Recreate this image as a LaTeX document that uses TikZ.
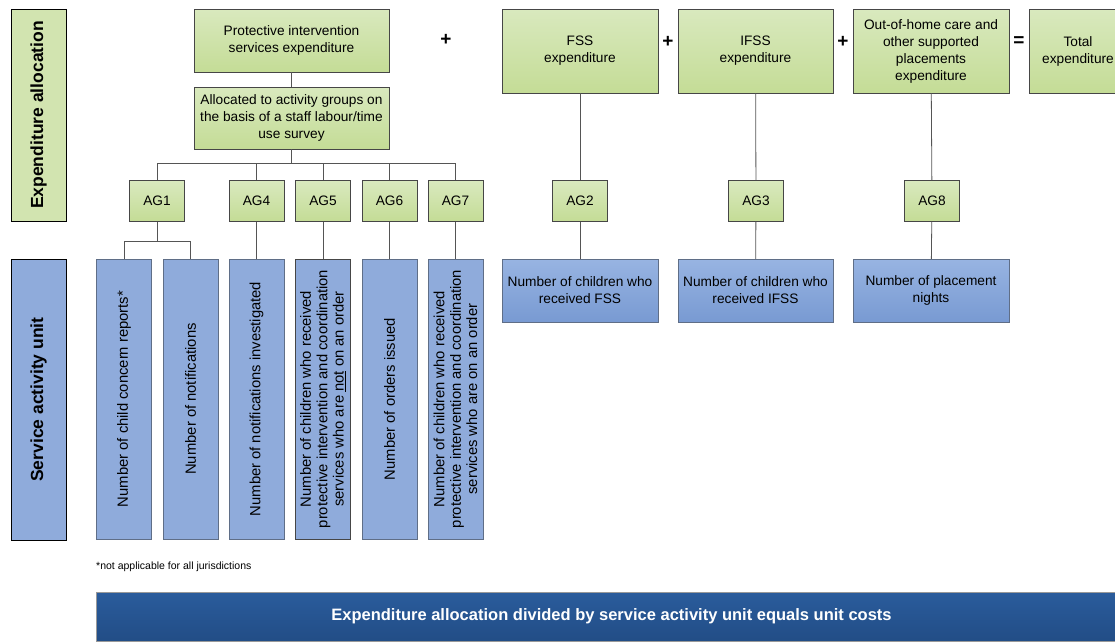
\documentclass[tikz,border=0pt]{standalone}
\usepackage{fontspec}
\setmainfont{Liberation Sans}
\usetikzlibrary{positioning}

\definecolor{greentop}{RGB}{217,233,190}
\definecolor{greenbot}{RGB}{196,220,150}
\definecolor{greenside}{RGB}{210,228,176}
\definecolor{bluefill}{RGB}{143,171,219}
\definecolor{bluetop}{RGB}{152,180,226}
\definecolor{bluebot}{RGB}{120,154,210}
\definecolor{boxline}{RGB}{70,70,70}
\definecolor{blueline}{RGB}{95,110,135}
\definecolor{linkline}{RGB}{85,85,85}
\definecolor{bannertop}{RGB}{42,92,156}
\definecolor{bannerbot}{RGB}{34,77,134}

\begin{document}
\begin{tikzpicture}[x = 1pt, y = -1pt,
	greenbox/.style = {draw = boxline, top color = greentop, bottom color = greenbot,
		align = center, inner sep = 0pt, font = \fontsize{13.7}{17}\selectfont},
	agbox/.style = {greenbox, minimum width = 55pt, minimum height = 41pt},
	tallbox/.style = {draw = blueline, fill = bluefill, rotate = 90, align = center,
		minimum width = 280pt, minimum height = 55pt, inner sep = 0pt,
		font = \fontsize{14.8}{16.3}\selectfont},
	widebox/.style = {draw = blueline, top color = bluetop, bottom color = bluebot,
		minimum width = 156pt, minimum height = 63pt, align = center, inner sep = 0pt,
		font = \fontsize{13.7}{17}\selectfont},
	sidelabel/.style = {draw = black, rotate = 90, minimum height = 55pt, inner sep = 0pt,
		font = \bfseries\fontsize{17.5}{20}\selectfont},
	link/.style = {draw = linkline, line width = 0.8pt},
	sign/.style = {inner sep = 0pt, font = \bfseries\fontsize{19}{19}\selectfont}]

	\useasboundingbox (0, 0) rectangle (1115, 641);

	% Side labels

	\node [sidelabel, fill = greenside, minimum width = 212pt] (exlabel) at (38.5, 115) {Expenditure allocation};
	\node [sidelabel, fill = bluefill, minimum width = 281pt] (salabel) at (38.5, 399.5) {Service activity unit};

	% Expenditure

	\node [greenbox, minimum width = 195pt, minimum height = 63pt] (pis) at (291.5, 40.5) {Protective intervention\\services expenditure};
	\node [greenbox, minimum width = 195pt, minimum height = 62pt] (alloc) at (291.5, 118) {Allocated to activity groups on\\the basis of a staff labour/time\\use survey};
	\node [greenbox, minimum width = 156pt, minimum height = 84pt] (fss) at (580, 51) {FSS\\expenditure};
	\node [greenbox, minimum width = 155pt, minimum height = 84pt] (ifss) at (755.5, 51) {IFSS\\expenditure};
	\node [greenbox, minimum width = 156pt, minimum height = 84pt] (ooh) at (931, 51) {Out-of-home care and\\other supported\\placements\\expenditure};
	\node [greenbox, minimum width = 98pt, minimum height = 84pt] (total) at (1078, 51) {Total\\expenditure};

	% Signs

	\node [sign] (plusa) at (446, 40) {+};
	\node [sign] (plusb) at (668, 42) {+};
	\node [sign] (plusc) at (843, 42) {+};
	\node [sign] (equal) at (1019, 42) {=};

	% Activity groups

	\node [agbox] (ag1) at (157, 201) {AG1};
	\node [agbox] (ag4) at (256.5, 201) {AG4};
	\node [agbox] (ag5) at (323, 201) {AG5};
	\node [agbox] (ag6) at (389.5, 201) {AG6};
	\node [agbox] (ag7) at (455.5, 201) {AG7};
	\node [agbox] (ag2) at (580, 201) {AG2};
	\node [agbox] (ag3) at (756, 201) {AG3};
	\node [agbox] (ag8) at (932, 201) {AG8};

	% Service activity units

	\node [tallbox] (su1) at (124, 399) {Number of child concern reports*};
	\node [tallbox] (su2) at (190.5, 399) {Number of notifications};
	\node [tallbox] (su3) at (256.5, 399) {Number of notifications investigated};
	\node [tallbox, draw = boxline] (su4) at (323, 399) {Number of children who received\\protective intervention and coordination\\services who are \underline{not} on an order};
	\node [tallbox] (su5) at (389.5, 399) {Number of orders issued};
	\node [tallbox] (su6) at (455.5, 399) {Number of children who received\\protective intervention and coordination\\services who are on an order};
	\node [widebox] (su7) at (580, 290.5) {Number of children who\\received FSS};
	\node [widebox, minimum width = 155pt] (su8) at (755.5, 290.5) {Number of children who\\received IFSS};
	\node [widebox] (su9) at (931, 290.5) {Number of placement\\nights};

	% Connectors

	\draw [link] (pis) -- (alloc);
	\draw [link] (alloc.south) -- ++(0, 14) coordinate (fork);
	\foreach \ag in {ag1, ag4, ag5, ag6, ag7}
		\draw [link] (fork) -| (\ag.north);
	\draw [link] (ag1.south) -- ++(0, 20) coordinate (forkb);
	\draw [link] (forkb) -| (su1.east);
	\draw [link] (forkb) -| (su2.east);
	\draw [link] (ag4.south) -- (su3.east);
	\draw [link] (ag5.south) -- (su4.east);
	\draw [link] (ag6.south) -- (su5.east);
	\draw [link] (ag7.south) -- (su6.east);
	\draw [link] (fss) -- (ag2);
	\draw [link] (ifss) -- (ag3);
	\draw [link] (ooh) -- (ag8);
	\draw [link] (ag2) -- (su7);
	\draw [link] (ag3) -- (su8);
	\draw [link] (ag8) -- (su9);

	% Footnote and banner

	\node [anchor = west, inner sep = 0pt, font = \fontsize{10.5}{12}\selectfont] (note) at (96, 567) {*not applicable for all jurisdictions};
	\node [draw = gray!80, top color = bannertop, bottom color = bannerbot, text = white,
		minimum width = 1031pt, minimum height = 49pt,
		font = \bfseries\fontsize{16.5}{18}\selectfont] (banner) at (611.5, 616.5) {Expenditure allocation divided by service activity unit equals unit costs};

\end{tikzpicture}
\end{document}
